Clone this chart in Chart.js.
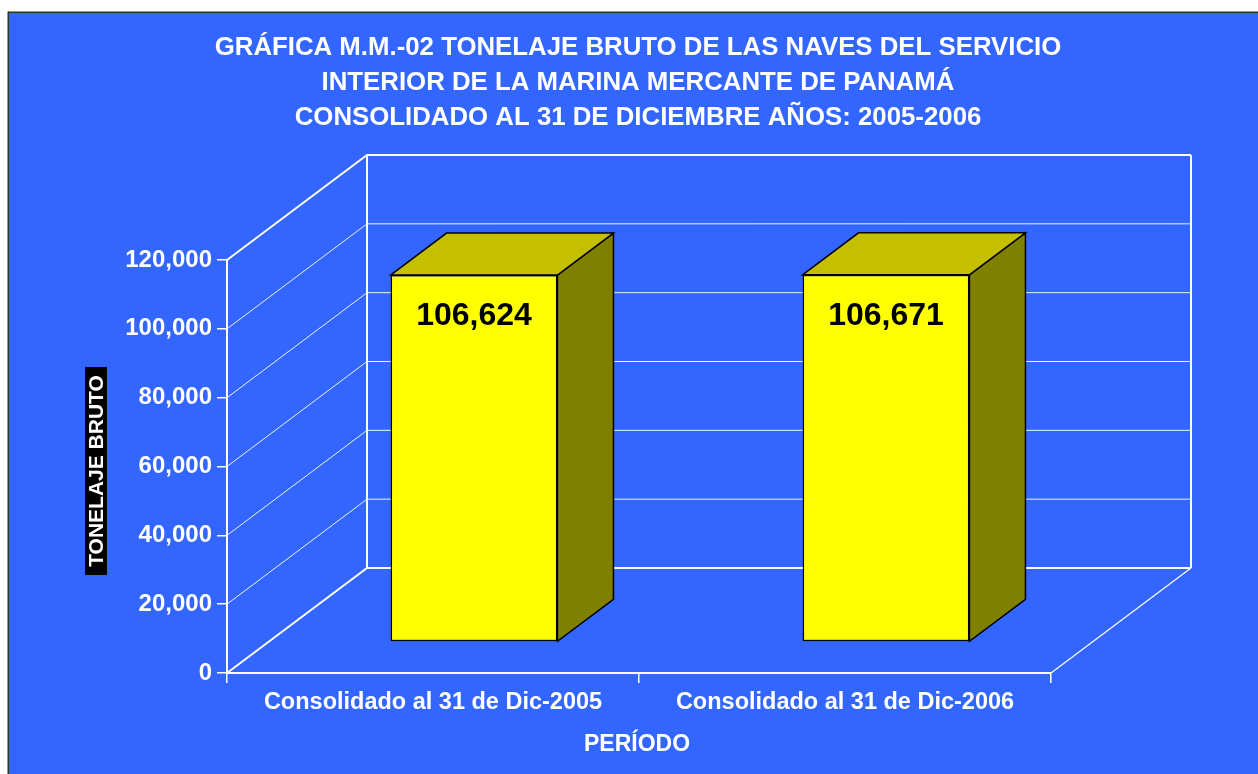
<!DOCTYPE html>
<html>
<head>
<meta charset="utf-8">
<script src="https://cdn.jsdelivr.net/npm/chart.js@4.4.1/dist/chart.umd.min.js"></script>
<style>
    html, body { margin: 0; padding: 0; background: #fff; }
    #box { position: relative; width: 1258px; height: 774px; }
</style>
</head>
<body>
<div id="box"><canvas id="tonChart"></canvas></div>
<script>
// Data
const categories = ['Consolidado al 31 de Dic-2005', 'Consolidado al 31 de Dic-2006'];
const tonelaje = [106624, 106671];
const titleLines = [
    'GRÁFICA M.M.-02 TONELAJE BRUTO DE LAS NAVES DEL SERVICIO',
    'INTERIOR DE LA MARINA MERCANTE DE PANAMÁ',
    'CONSOLIDADO AL 31 DE DICIEMBRE AÑOS: 2005-2006'
];
const yAxisTitle = 'TONELAJE BRUTO';
const xAxisTitle = 'PERÍODO';
const yMin = 0, yMax = 120000, yStep = 20000;

const FONT = "'Liberation Sans', Arial, sans-serif";
const BLUE = '#3366ff';

// 3D depth of the box and of the bars (pixels)
const WALL_DX = 140, WALL_DY = -105;
const BAR_SX = 41, BAR_SY = -31;   // where the bar's front face sits
const BAR_DX = 56, BAR_DY = -42;   // bar depth

const fmt = v => v.toLocaleString('en-US');

// Background, frame and titles
const backdrop = {
    id: 'backdrop',
    beforeDraw(chart) {
        const ctx = chart.ctx;
        ctx.save();
        ctx.fillStyle = '#fff';
        ctx.fillRect(0, 0, chart.width, chart.height);
        ctx.fillStyle = BLUE;
        ctx.fillRect(8, 12, chart.width - 8, chart.height - 12);
        ctx.fillStyle = '#333';
        ctx.fillRect(8, 11.5, chart.width - 8, 1.5);
        ctx.fillRect(7.5, 11.5, 1.5, chart.height - 11.5);

        ctx.fillStyle = '#fff';
        ctx.textAlign = 'center';
        ctx.textBaseline = 'middle';
        ctx.font = 'bold 25.8px ' + FONT;
        titleLines.forEach((t, i) => ctx.fillText(t, 638, 48 + i * 35));

        ctx.font = 'bold 23px ' + FONT;
        ctx.fillText(xAxisTitle, 637, 745);

        // rotated y title on a black strip
        ctx.fillStyle = '#000';
        ctx.fillRect(85, 367, 22, 208);
        ctx.translate(96, 471);
        ctx.rotate(-Math.PI / 2);
        ctx.fillStyle = '#fff';
        ctx.font = 'bold 21px ' + FONT;
        ctx.fillText(yAxisTitle, 0, 1);
        ctx.restore();
    }
};

// Side wall, back wall and floor, then shift the bars into the box
const walls = {
    id: 'walls',
    beforeDatasetsDraw(chart) {
        const { ctx, scales: { x, y } } = chart;
        const l = x.left, r = x.right;
        const b = y.getPixelForValue(yMin), t = y.getPixelForValue(yMax);
        ctx.save();
        ctx.strokeStyle = '#fff';
        y.ticks.forEach(tk => {
            const py = y.getPixelForValue(tk.value);
            const edge = tk.value === yMin || tk.value === yMax;
            ctx.lineWidth = edge ? 2 : 1;
            ctx.strokeStyle = edge ? '#fff' : 'rgba(255,255,255,0.9)';
            ctx.beginPath();
            ctx.moveTo(l, py);
            ctx.lineTo(l + WALL_DX, py + WALL_DY);
            ctx.lineTo(r + WALL_DX, py + WALL_DY);
            ctx.stroke();
        });
        ctx.lineWidth = 2;
        ctx.strokeStyle = '#fff';
        ctx.beginPath();
        ctx.moveTo(l + WALL_DX, b + WALL_DY);
        ctx.lineTo(l + WALL_DX, t + WALL_DY);
        ctx.moveTo(r + WALL_DX, b + WALL_DY);
        ctx.lineTo(r + WALL_DX, t + WALL_DY);
        ctx.stroke();
        ctx.lineWidth = 1.2;
        ctx.beginPath();
        ctx.moveTo(r, b);
        ctx.lineTo(r + WALL_DX, b + WALL_DY);
        ctx.stroke();
        ctx.restore();

        ctx.save();
        ctx.translate(BAR_SX, BAR_SY);
    },
    afterDatasetsDraw(chart) {
        const ctx = chart.ctx;
        ctx.restore();
        const meta = chart.getDatasetMeta(0);
        ctx.save();
        ctx.lineWidth = 1.5;
        ctx.strokeStyle = '#000';
        ctx.lineJoin = 'miter';
        meta.data.forEach((bar, i) => {
            const p = bar.getProps(['x', 'y', 'base', 'width'], true);
            const left = p.x - p.width / 2 + BAR_SX;
            const right = p.x + p.width / 2 + BAR_SX;
            const top = p.y + BAR_SY;
            const bottom = p.base + BAR_SY;
            // side face
            ctx.fillStyle = '#808000';
            ctx.beginPath();
            ctx.moveTo(right, top);
            ctx.lineTo(right + BAR_DX, top + BAR_DY);
            ctx.lineTo(right + BAR_DX, bottom + BAR_DY);
            ctx.lineTo(right, bottom);
            ctx.closePath();
            ctx.fill();
            ctx.stroke();
            // top face
            ctx.fillStyle = '#c4c000';
            ctx.beginPath();
            ctx.moveTo(left, top);
            ctx.lineTo(left + BAR_DX, top + BAR_DY);
            ctx.lineTo(right + BAR_DX, top + BAR_DY);
            ctx.lineTo(right, top);
            ctx.closePath();
            ctx.fill();
            ctx.stroke();
            // value label
            ctx.fillStyle = '#000';
            ctx.font = 'bold 32px ' + FONT;
            ctx.textAlign = 'center';
            ctx.textBaseline = 'middle';
            ctx.fillText(fmt(tonelaje[i]), (left + right) / 2, top + 41);
        });
        ctx.restore();
    }
};

new Chart(document.getElementById('tonChart'), {
    type: 'bar',
    data: {
        labels: categories,
        datasets: [{
            data: tonelaje,
            backgroundColor: '#ffff00',
            borderColor: '#000',
            borderWidth: 1.5,
            borderSkipped: false,
            barPercentage: 0.405,
            categoryPercentage: 1,
            clip: false
        }]
    },
    options: {
        responsive: true,
        maintainAspectRatio: false,
        animation: false,
        layout: { padding: { left: 0, top: 260, right: 207, bottom: 0 } },
        plugins: {
            legend: { display: false },
            tooltip: { enabled: false },
            title: { display: false }
        },
        scales: {
            x: {
                grid: { drawOnChartArea: false, color: '#fff', lineWidth: 1.5, tickLength: 10, offset: true },
                border: { display: true, color: '#fff', width: 2 },
                ticks: { color: '#fff', font: { family: FONT, size: 23.5, weight: 'bold' }, padding: 5, maxRotation: 0, autoSkip: false },
                afterFit(scale) { scale.height = 101; }
            },
            y: {
                min: yMin,
                max: yMax,
                grid: { drawOnChartArea: false, color: '#fff', lineWidth: 1.5, tickLength: 10 },
                border: { display: true, color: '#fff', width: 2 },
                ticks: {
                    stepSize: yStep,
                    color: '#fff',
                    font: { family: FONT, size: 24, weight: 'bold' },
                    padding: 5,
                    callback: v => fmt(v)
                },
                afterFit(scale) { scale.width = 227; }
            }
        }
    },
    plugins: [backdrop, walls]
});
</script>
</body>
</html>
